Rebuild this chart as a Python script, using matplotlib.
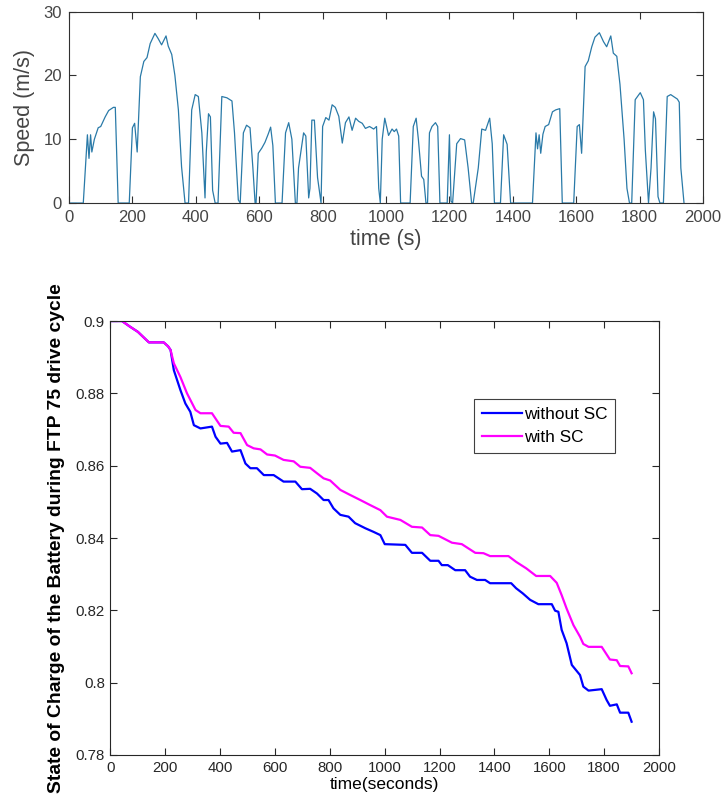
import matplotlib
matplotlib.use('Agg')
import matplotlib.pyplot as plt

plt.rcParams['font.family'] = ['Liberation Sans', 'DejaVu Sans']

# FTP 75 speed profile
speed_t = [0, 45, 58, 63, 68, 72, 80, 92, 100, 114,
           125, 140, 146, 155, 190, 200, 207, 215, 225, 236,
           246, 256, 271, 281, 292, 306, 313, 324, 334, 345,
           355, 366, 377, 387, 398, 408, 419, 429, 433, 440,
           446, 453, 461, 470, 482, 498, 514, 522, 534, 540,
           550, 560, 571, 580, 587, 590, 597, 608, 618, 629,
           636, 643, 651, 672, 683, 693, 703, 714, 719, 724,
           740, 747, 756, 760, 766, 774, 784, 795, 800, 810,
           820, 830, 840, 851, 862, 872, 883, 893, 904, 914,
           925, 935, 948, 961, 970, 977, 982, 988, 996, 1008,
           1019, 1026, 1033, 1040, 1046, 1076, 1086, 1095, 1102, 1112,
           1119, 1126, 1131, 1137, 1145, 1156, 1163, 1170, 1193, 1200,
           1205, 1210, 1223, 1235, 1248, 1259, 1270, 1275, 1291, 1302,
           1314, 1327, 1335, 1342, 1361, 1371, 1382, 1393, 1462, 1473,
           1478, 1483, 1488, 1495, 1502, 1513, 1525, 1535, 1548, 1556,
           1592, 1603, 1610, 1617, 1628, 1638, 1649, 1659, 1673, 1686,
           1696, 1709, 1717, 1728, 1738, 1751, 1760, 1768, 1775, 1786,
           1802, 1812, 1818, 1828, 1836, 1844, 1850, 1858, 1864, 1875,
           1887, 1898, 1919, 1925, 1930, 1940]
speed_v = [0, 0, 10.7, 7, 10.7, 8, 10, 11.8, 12, 13.5,
           14.5, 15, 15, 0, 0, 11.8, 12.5, 8, 19.8, 22.2,
           22.8, 25, 26.6, 25.8, 24.8, 26.2, 24.6, 23.3, 20, 14.6,
           5.7, 0, 0, 14.6, 17, 16.7, 11, 0.8, 8, 14,
           13.5, 2, 0, 0, 16.7, 16.5, 16, 11, 0.5, 0,
           11, 12.2, 11.8, 5.5, 0, 0, 7.8, 8.6, 9.5, 10.9,
           11.9, 9, 0, 0, 11, 12.6, 10, 0, 0, 5.5,
           11, 10.5, 0.8, 2.3, 13, 13, 4, 0, 12, 13.4,
           13, 15.4, 15, 13.6, 9.4, 12.6, 13.5, 11.4, 13.3, 12.8,
           12.5, 11.7, 12, 11.6, 12, 2.3, 0, 10, 13.3, 10.6,
           11.6, 11.2, 11.6, 10.5, 0, 0, 12, 13.3, 10, 4.2,
           3.7, 0, 0, 11, 12, 12.6, 12, 0, 0, 10.7,
           0.3, 0, 9.3, 10.1, 9.9, 5.5, 0, 0, 5.5, 11.6,
           11.4, 13.3, 9.3, 0, 0, 10.7, 9.2, 0, 0, 11,
           8.5, 10.7, 7.8, 10.8, 12, 12.3, 14.3, 14.6, 14.8, 0,
           0, 12, 12.3, 7.8, 21.4, 22.3, 24.5, 26, 26.7, 25.3,
           24.5, 26.2, 23.5, 23, 18.6, 10, 2.3, 0, 0, 16.2,
           17.3, 16.2, 8.3, 0, 5.5, 14.3, 13.2, 1, 0, 0,
           16.7, 17, 16.3, 15.8, 5.5, 0]

# battery state of charge without supercapacitor
nosc_t = [0, 42, 70, 100, 140, 194, 210, 219, 231, 255,
          273, 291, 304, 328, 370, 383, 401, 425, 443, 474,
          492, 510, 534, 559, 595, 631, 674, 698, 728, 753,
          777, 795, 813, 838, 868, 892, 929, 959, 984, 1000,
          1075, 1099, 1136, 1166, 1196, 1208, 1230, 1257, 1293, 1311,
          1336, 1366, 1384, 1461, 1479, 1503, 1530, 1560, 1609, 1621,
          1633, 1645, 1663, 1682, 1712, 1724, 1743, 1791, 1809, 1821,
          1846, 1858, 1888, 1900]
nosc_v = [0.9, 0.9, 0.8985, 0.897, 0.8941, 0.8941, 0.893, 0.892, 0.8864, 0.8809,
          0.8772, 0.8749, 0.8712, 0.8703, 0.8708, 0.8680, 0.8661, 0.8663, 0.8639, 0.8643,
          0.8606, 0.8593, 0.8593, 0.8574, 0.8574, 0.8556, 0.8556, 0.8535, 0.8536, 0.8523,
          0.8505, 0.8505, 0.8482, 0.8464, 0.8459, 0.8441, 0.8427, 0.8417, 0.8408, 0.8383,
          0.8381, 0.8359, 0.8359, 0.8337, 0.8337, 0.8325, 0.8325, 0.8311, 0.8311, 0.8293,
          0.8284, 0.8284, 0.8275, 0.8275, 0.8261, 0.8247, 0.8229, 0.8217, 0.8217, 0.8199,
          0.8196, 0.8146, 0.8109, 0.8049, 0.8021, 0.7989, 0.7978, 0.7982, 0.7952, 0.7936,
          0.7940, 0.7917, 0.7917, 0.7892]

# battery state of charge with supercapacitor
sc_t = [0, 42, 70, 100, 140, 194, 210, 219, 231, 255,
        279, 310, 328, 370, 401, 431, 449, 474, 498, 522,
        547, 571, 600, 631, 668, 692, 728, 753, 777, 801,
        838, 874, 911, 947, 984, 1008, 1057, 1099, 1136, 1166,
        1196, 1245, 1281, 1330, 1360, 1384, 1451, 1479, 1516, 1552,
        1603, 1627, 1645, 1663, 1688, 1712, 1724, 1743, 1791, 1821,
        1846, 1858, 1888, 1900]
sc_v = [0.9, 0.9, 0.8985, 0.897, 0.8941, 0.8941, 0.893, 0.892, 0.8883, 0.8845,
        0.8800, 0.8754, 0.8745, 0.8745, 0.8710, 0.8708, 0.8691, 0.8690, 0.8657, 0.8648,
        0.8645, 0.8631, 0.8628, 0.8616, 0.8612, 0.8597, 0.8594, 0.8579, 0.8565, 0.8559,
        0.8533, 0.8519, 0.8505, 0.8491, 0.8477, 0.8459, 0.8450, 0.8431, 0.8429, 0.8408,
        0.8406, 0.8387, 0.8383, 0.8359, 0.8358, 0.8350, 0.8350, 0.8334, 0.8316, 0.8295,
        0.8295, 0.8276, 0.8242, 0.8205, 0.8159, 0.8127, 0.8107, 0.8099, 0.8099, 0.8064,
        0.8062, 0.8046, 0.8045, 0.8026]

fig = plt.figure(figsize=(7.25, 8.06), dpi=100)

# oberes Diagramm: Geschwindigkeit
ax1 = fig.add_axes([0.0952, 0.7481, 0.8745, 0.2374])
ax1.plot(speed_t, speed_v, color='#2a7aa8', linewidth=0.9)
ax1.set_xlim(0, 2000)
ax1.set_ylim(0, 30)
ax1.set_xticks(range(0, 2001, 200))
ax1.set_yticks([0, 10, 20, 30])
ax1.tick_params(direction='in', top=True, right=True, labelsize=12,
                colors='#303030', labelcolor='#454545', length=5, pad=5)
for s in ax1.spines.values():
    s.set_color('#303030')
ax1.set_xlabel('time (s)', fontsize=15.5, color='#454545', labelpad=3)
ax1.set_ylabel('Speed (m/s)', fontsize=15.5, color='#454545', labelpad=6)

# unteres Diagramm: Ladezustand
ax2 = fig.add_axes([0.1524, 0.0633, 0.7566, 0.5384])
ax2.plot(nosc_t, nosc_v, color='#0000ff', linewidth=1.6, label='without SC')
ax2.plot(sc_t, sc_v, color='#ff00ff', linewidth=1.6, label='with SC')
ax2.set_xlim(0, 2000)
ax2.set_ylim(0.78, 0.9)
ax2.set_xticks(range(0, 2001, 200))
ax2.set_yticks([0.78, 0.8, 0.82, 0.84, 0.86, 0.88, 0.9])
ax2.set_yticklabels(['0.78', '0.8', '0.82', '0.84', '0.86', '0.88', '0.9'])
ax2.tick_params(direction='in', top=True, right=True, labelsize=10.8,
                colors='#262626', length=5, pad=4)
for s in ax2.spines.values():
    s.set_color('#262626')
ax2.set_xlabel('time(seconds)', fontsize=12.5, labelpad=2)
ax2.set_ylabel('State of Charge of the Battery during FTP 75 drive cycle',
               fontsize=13.9, fontweight='bold', labelpad=8)
leg = ax2.legend(loc='upper left', bbox_to_anchor=(0.663, 0.820), fontsize=12.4,
                 fancybox=False, edgecolor='#404040', framealpha=1,
                 handlelength=2.3, handletextpad=0.15, borderpad=0.45,
                 labelspacing=0.45, borderaxespad=0)
leg.get_frame().set_linewidth(0.8)

plt.savefig('out.png', dpi=100)
